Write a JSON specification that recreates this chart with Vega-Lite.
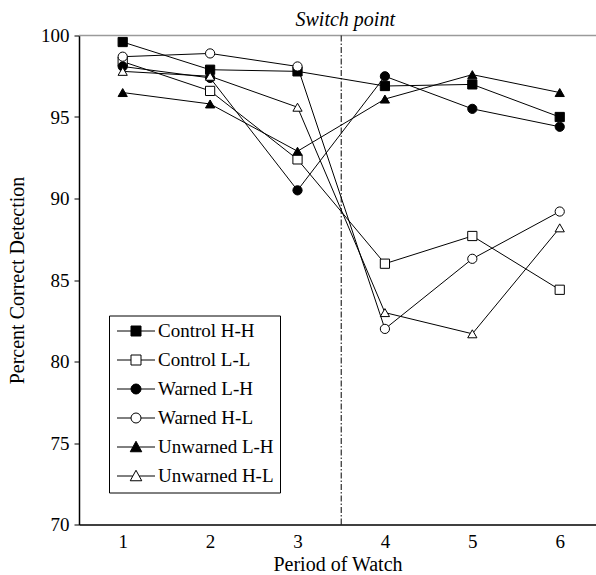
{
  "$schema": "https://vega.github.io/schema/vega-lite/v6.json",
  "width": 517,
  "height": 489,
  "autosize": "none",
  "padding": {"left": 79, "top": 35.5, "right": 0, "bottom": 50.5},
  "background": "white",
  "config": {
    "view": {"stroke": null},
    "font": "Liberation Serif"
  },
  "data": {
    "values": [
      {"series": "Control H-H", "period": 1, "value": 99.6},
      {"series": "Control H-H", "period": 2, "value": 97.9},
      {"series": "Control H-H", "period": 3, "value": 97.8},
      {"series": "Control H-H", "period": 4, "value": 96.9},
      {"series": "Control H-H", "period": 5, "value": 97.0},
      {"series": "Control H-H", "period": 6, "value": 95.0},
      {"series": "Control L-L", "period": 1, "value": 98.4},
      {"series": "Control L-L", "period": 2, "value": 96.6},
      {"series": "Control L-L", "period": 3, "value": 92.4},
      {"series": "Control L-L", "period": 4, "value": 86.0},
      {"series": "Control L-L", "period": 5, "value": 87.7},
      {"series": "Control L-L", "period": 6, "value": 84.4},
      {"series": "Warned L-H", "period": 1, "value": 98.1},
      {"series": "Warned L-H", "period": 2, "value": 97.4},
      {"series": "Warned L-H", "period": 3, "value": 90.5},
      {"series": "Warned L-H", "period": 4, "value": 97.5},
      {"series": "Warned L-H", "period": 5, "value": 95.5},
      {"series": "Warned L-H", "period": 6, "value": 94.4},
      {"series": "Warned H-L", "period": 1, "value": 98.7},
      {"series": "Warned H-L", "period": 2, "value": 98.9},
      {"series": "Warned H-L", "period": 3, "value": 98.1},
      {"series": "Warned H-L", "period": 4, "value": 82.0},
      {"series": "Warned H-L", "period": 5, "value": 86.3},
      {"series": "Warned H-L", "period": 6, "value": 89.2},
      {"series": "Unwarned L-H", "period": 1, "value": 96.5},
      {"series": "Unwarned L-H", "period": 2, "value": 95.8},
      {"series": "Unwarned L-H", "period": 3, "value": 92.9},
      {"series": "Unwarned L-H", "period": 4, "value": 96.1},
      {"series": "Unwarned L-H", "period": 5, "value": 97.6},
      {"series": "Unwarned L-H", "period": 6, "value": 96.5},
      {"series": "Unwarned H-L", "period": 1, "value": 97.8},
      {"series": "Unwarned H-L", "period": 2, "value": 97.5},
      {"series": "Unwarned H-L", "period": 3, "value": 95.6},
      {"series": "Unwarned H-L", "period": 4, "value": 83.0},
      {"series": "Unwarned H-L", "period": 5, "value": 81.7},
      {"series": "Unwarned H-L", "period": 6, "value": 88.2}
    ]
  },
  "resolve": {"scale": {"shape": "independent", "fill": "independent"}, "legend": {"shape": "independent", "fill": "independent"}},
  "encoding": {
    "x": {
      "field": "period", "type": "quantitative",
      "scale": {"domain": [0.5, 6.415], "nice": false, "zero": false},
      "axis": {
        "title": "Period of Watch", "values": [1, 2, 3, 4, 5, 6], "ticks": false, "grid": false,
        "domainColor": "black", "domainWidth": 1.5,
        "labelFont": "Liberation Serif", "labelFontSize": 19, "labelColor": "black", "labelPadding": 8,
        "titleFont": "Liberation Serif", "titleFontSize": 20, "titleFontWeight": "normal", "titleColor": "black", "titlePadding": 3
      }
    },
    "y": {
      "field": "value", "type": "quantitative",
      "scale": {"domain": [70, 100], "nice": false, "zero": false},
      "axis": {
        "title": "Percent Correct Detection", "values": [70, 75, 80, 85, 90, 95, 100], "grid": false,
        "tickSize": 5, "tickColor": "black", "domainColor": "black", "domainWidth": 1.5,
        "labelFont": "Liberation Serif", "labelFontSize": 19, "labelColor": "black", "labelPadding": 5,
        "titleFont": "Liberation Serif", "titleFontSize": 20, "titleFontWeight": "normal", "titleColor": "black", "titlePadding": 13
      }
    }
  },
  "layer": [
    {
      "data": {"values": [{"y": 100}]},
      "mark": {"type": "rule", "color": "#9a9a9a", "strokeWidth": 1.5},
      "encoding": {"x": null, "y": {"field": "y", "type": "quantitative"}}
    },
    {
      "data": {"values": [{"x": 3.5}]},
      "mark": {"type": "rule", "color": "black", "strokeWidth": 1, "strokeDash": [6, 2, 1.5, 2]},
      "encoding": {"y": null, "x": {"field": "x", "type": "quantitative"}}
    },
    {
      "data": {"values": [{"x": 3.5, "y": 100, "label": "Switch point"}]},
      "mark": {"type": "text", "font": "Liberation Serif", "fontStyle": "italic", "fontSize": 20, "color": "black", "baseline": "alphabetic", "dy": -10, "dx": 4},
      "encoding": {
        "x": {"field": "x", "type": "quantitative"},
        "y": {"field": "y", "type": "quantitative"},
        "text": {"field": "label"}
      }
    },
    {
      "mark": {"type": "line", "color": "black", "strokeWidth": 1},
      "encoding": {"detail": {"field": "series"}}
    },
    {
      "mark": {"type": "point", "filled": true, "stroke": "black", "strokeWidth": 1, "size": 85, "opacity": 1},
      "encoding": {
        "shape": {
          "field": "series", "type": "nominal",
          "scale": {
            "domain": ["Control H-H", "Control L-L", "Warned L-H", "Warned H-L", "Unwarned L-H", "Unwarned H-L"],
            "range": ["square", "square", "circle", "circle", "triangle-up", "triangle-up"]
          },
          "legend": null
        },
        "fill": {
          "field": "series", "type": "nominal",
          "scale": {
            "domain": ["Control H-H", "Control L-L", "Warned L-H", "Warned H-L", "Unwarned L-H", "Unwarned H-L"],
            "range": ["black", "white", "black", "white", "black", "white"]
          },
          "legend": null
        }
      }
    },
    {
      "transform": [{"filter": "false"}],
      "mark": {"type": "point", "filled": true, "stroke": "black", "strokeWidth": 1, "size": 100, "opacity": 1},
      "encoding": {
        "shape": {
          "field": "series", "type": "nominal",
          "scale": {
            "domain": ["Control H-H", "Control L-L", "Warned L-H", "Warned H-L", "Unwarned L-H", "Unwarned H-L"],
            "range": [
              "M-3.8,0H-1M1,0H3.8M-1,-1H1V1H-1Z",
              "M-3.8,0H-1M1,0H3.8M-1,-1H1V1H-1Z",
              "M-3.8,0H-1M1,0H3.8M1,0A1,1 0 1,1 -1,0A1,1 0 1,1 1,0Z",
              "M-3.8,0H-1M1,0H3.8M1,0A1,1 0 1,1 -1,0A1,1 0 1,1 1,0Z",
              "M-3.8,0H-0.65M0.65,0H3.8M0,-1.15L1.15,0.95L-1.15,0.95Z",
              "M-3.8,0H-0.65M0.65,0H3.8M0,-1.15L1.15,0.95L-1.15,0.95Z"
            ]
          },
          "legend": {
            "title": null, "orient": "none", "legendX": 30, "legendY": 280,
            "strokeColor": "black", "fillColor": "white", "padding": 6,
            "symbolSize": 100, "symbolOffset": 11.5, "labelOffset": 12.5, "rowPadding": 9,
            "labelFont": "Liberation Serif", "labelFontSize": 19, "labelColor": "black", "labelLimit": 300,
            "symbolStrokeColor": "black", "symbolStrokeWidth": 1,
            "encoding": {
              "symbols": {
                "stroke": {"value": "black"},
                "strokeWidth": {"value": 1},
                "opacity": {"value": 1}
              }
            }
          }
        },
        "fill": {
          "field": "series", "type": "nominal",
          "scale": {
            "domain": ["Control H-H", "Control L-L", "Warned L-H", "Warned H-L", "Unwarned L-H", "Unwarned H-L"],
            "range": ["black", "white", "black", "white", "black", "white"]
          },
          "legend": {
            "title": null, "orient": "none", "legendX": 30, "legendY": 280,
            "strokeColor": "black", "fillColor": "white", "padding": 6,
            "symbolSize": 100, "symbolOffset": 11.5, "labelOffset": 12.5, "rowPadding": 9,
            "labelFont": "Liberation Serif", "labelFontSize": 19, "labelColor": "black", "labelLimit": 300,
            "symbolStrokeColor": "black", "symbolStrokeWidth": 1,
            "encoding": {
              "symbols": {
                "stroke": {"value": "black"},
                "strokeWidth": {"value": 1},
                "opacity": {"value": 1}
              }
            }
          }
        }
      }
    }
  ]
}
